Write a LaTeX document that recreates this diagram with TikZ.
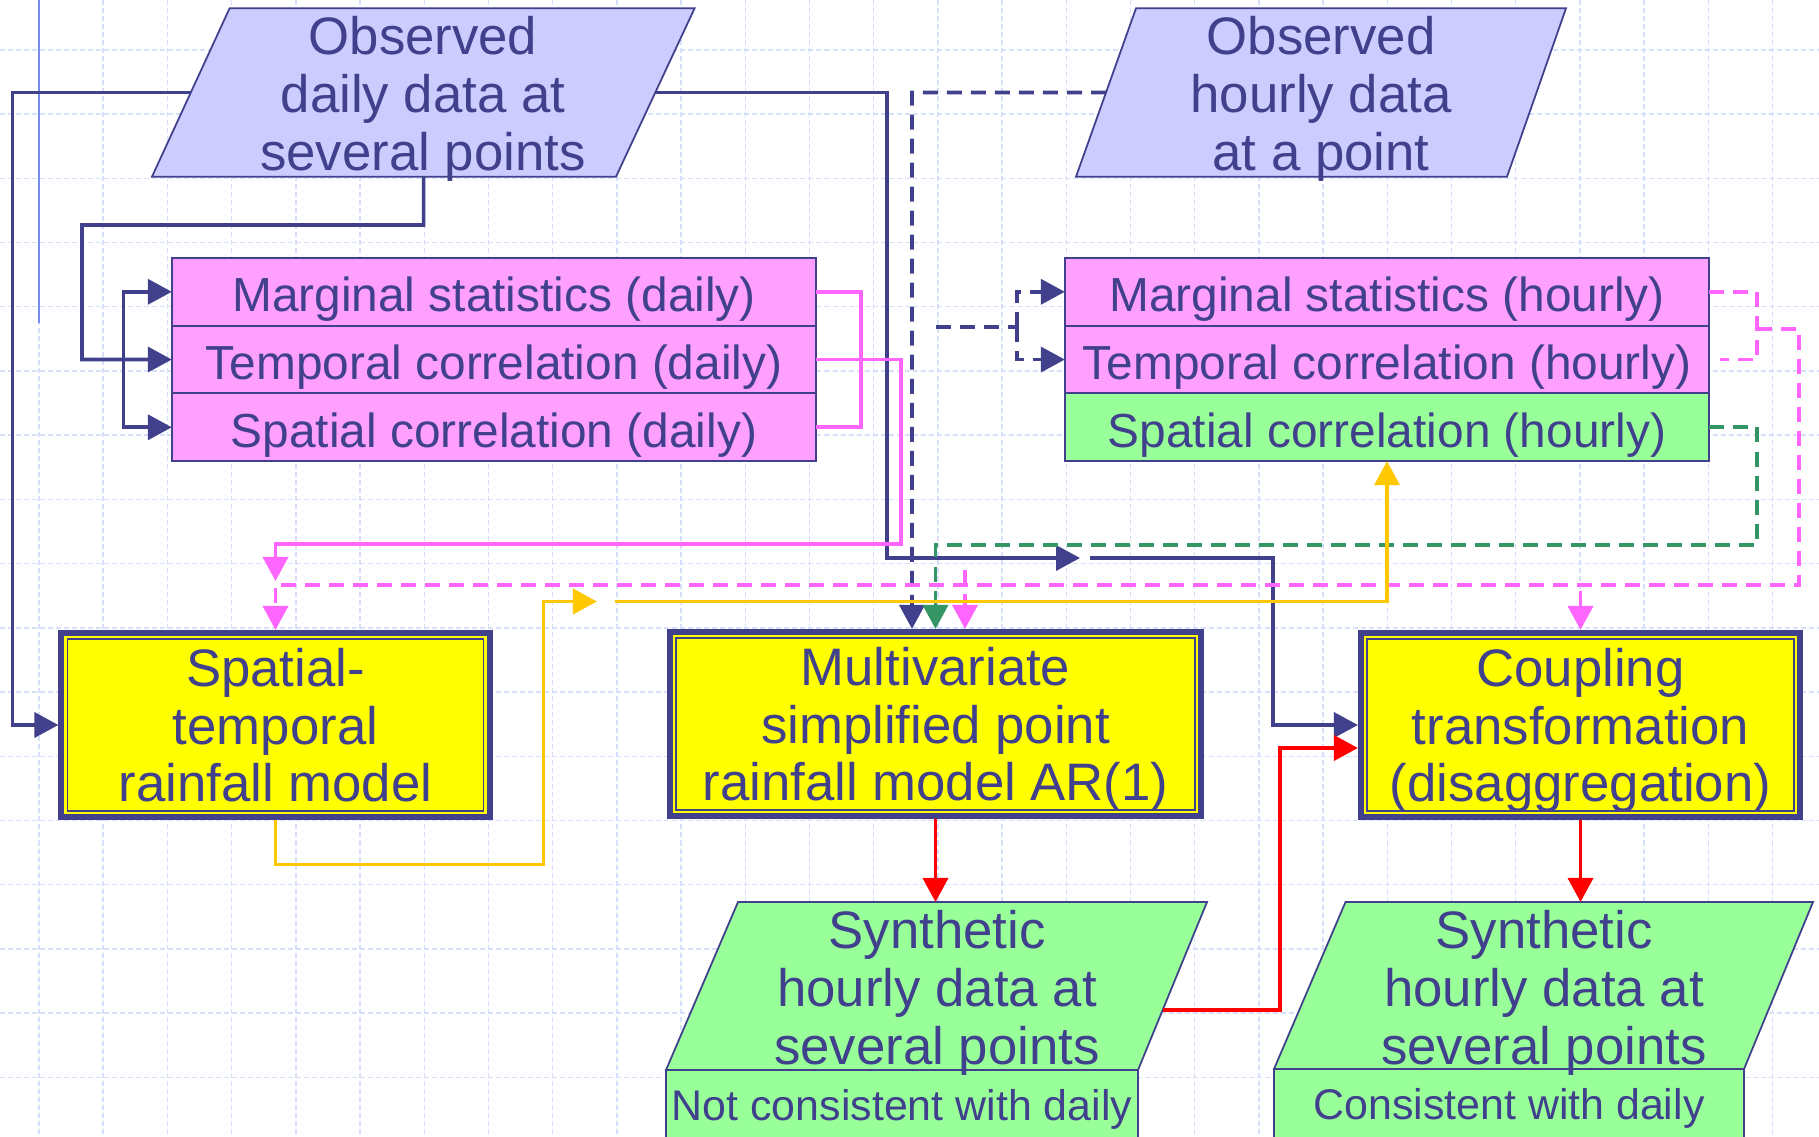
\documentclass[tikz,border=0pt]{standalone}
\usepackage{fontspec}
\setmainfont{Liberation Sans}
\usetikzlibrary{positioning,arrows.meta}

\definecolor{ink}{RGB}{64,64,140}
\definecolor{lavender}{RGB}{204,204,255}
\definecolor{pinkfill}{RGB}{255,160,255}
\definecolor{pinkline}{RGB}{255,102,255}
\definecolor{greenfill}{RGB}{153,255,153}
\definecolor{greenline}{RGB}{51,150,100}
\definecolor{goldline}{RGB}{255,200,0}
\definecolor{gridblue}{RGB}{214,224,250}
\definecolor{rulerblue}{RGB}{120,140,240}
\definecolor{modelyellow}{RGB}{255,255,0}

\newcommand{\bigtext}{\fontsize{15}{16.4}\selectfont}

\tikzset{
  con/.style={line width=1.05pt},
  dashcon/.style={con,dash pattern=on 0.15cm off 0.09cm},
  arrowed/.style={-{Triangle[length=0.24cm,width=0.25cm]}},
  datashape/.style={draw=ink,line width=0.5pt},
  datatext/.style={align=center,text=ink,font=\bigtext},
  rowbox/.style={draw=ink,line width=0.6pt,fill=pinkfill,minimum width=6.44cm,
    minimum height=0.677cm,inner sep=0pt,outer sep=0pt,text height=11.3pt,text depth=0pt,
    text=ink,font=\fontsize{13.6}{15}\selectfont},
  modelbox/.style={draw=ink,line width=0.06cm,fill=modelyellow,minimum height=1.84cm,
    inner sep=0pt,text depth=0pt,align=center,text=ink,font=\bigtext},
  gridline/.style={gridblue,line width=0.4pt,dash pattern=on 0.05cm off 0.03cm}
}

\begin{document}
\begin{tikzpicture}[x=0.01cm,y=-0.01cm]
 \useasboundingbox (0,0) rectangle (1819,1137);
 \clip (0,0) rectangle (1819,1137);
 \fill[white] (0,0) rectangle (1819,1137);

 %Grid
 \foreach \gx in {0,...,27}
   \draw[gridline] (39+64.2*\gx,0) -- (39+64.2*\gx,1137);
 \foreach \gy in {0,...,16}
   \draw[gridline] (0,50+64.2*\gy) -- (1819,50+64.2*\gy);
 \draw[rulerblue,line width=0.6pt] (39,0) -- (39,323);

 %Observed data
 \draw[datashape,fill=lavender] (229.6,8.3) -- (694.6,8.3) -- (616,176.7) -- (152,176.7) -- cycle;
 \node[datatext] (obsdaily) at (423,99) {Observed\\daily data at\\several points};
 \coordinate (obsdailyW) at (191,92.5);
 \coordinate (obsdailyE) at (655,92.5);
 \coordinate (obsdailyS) at (423.6,176.7);

 \draw[datashape,fill=lavender] (1136,8.3) -- (1566,8.3) -- (1507,176.7) -- (1076,176.7) -- cycle;
 \node[datatext] (obshourly) at (1321,99) {Observed\\hourly data\\at a point};
 \coordinate (obshourlyW) at (1106,92.5);

 %Statistics
 \node[rowbox] (margdaily) at (494,291.8) {Marginal statistics (daily)};
 \node[rowbox,below=0pt of margdaily] (tempdaily) {Temporal correlation (daily)};
 \node[rowbox,below=0pt of tempdaily] (spatdaily) {Spatial correlation (daily)};

 \node[rowbox] (marghourly) at (1387,291.8) {Marginal statistics (hourly)};
 \node[rowbox,below=0pt of marghourly] (temphourly) {Temporal correlation (hourly)};
 \node[rowbox,below=0pt of temphourly,fill=greenfill] (spathourly) {Spatial correlation (hourly)};

 %Models
 \node[modelbox,minimum width=4.28cm] (stmodel) at (275.5,725) {Spatial-\\temporal\\rainfall model};
 \node[modelbox,minimum width=5.31cm] (mvmodel) at (935.5,724) {Multivariate\\simplified point\\rainfall model AR(1)};
 \node[modelbox,minimum width=4.39cm] (cpmodel) at (1580.5,725) {Coupling\\transformation\\(disaggregation)};
 \foreach \m in {stmodel,mvmodel,cpmodel}
   \draw[ink,line width=0.45pt] ([xshift=0.09cm,yshift=0.09cm]\m.south west) rectangle ([xshift=-0.09cm,yshift=-0.09cm]\m.north east);

 %Synthetic data
 \draw[datashape,fill=greenfill] (666,1070) rectangle (1138,1160);
 \draw[datashape,fill=greenfill] (738,902) -- (1207,902) -- (1138,1070) -- (666,1070) -- cycle;
 \node[datatext] (synnot) at (937,993) {Synthetic\\hourly data at\\several points};
 \node[text=ink,anchor=base,font=\fontsize{12.2}{14}\selectfont] (notcons) at (902,1120) {Not consistent with daily};
 \coordinate (synnotN) at (935.5,902);
 \coordinate (synnotE) at (1163,1010);

 \draw[datashape,fill=greenfill] (1274,1069) rectangle (1744,1160);
 \draw[datashape,fill=greenfill] (1345.5,902) -- (1813,902) -- (1744,1069) -- (1274,1069) -- cycle;
 \node[datatext] (syncons) at (1544,993) {Synthetic\\hourly data at\\several points};
 \node[text=ink,anchor=base,font=\fontsize{12.2}{14}\selectfont] (cons) at (1509,1119) {Consistent with daily};
 \coordinate (synconsN) at (1580.5,902);

 %Daily data connectors
 \draw[con,ink,arrowed] (obsdailyW) -- (12.6,92.5) |- (stmodel.west);
 \draw[con,ink,arrowed] (obsdailyS) -- (423.6,225) -| (82,359.5) -- (tempdaily.west);
 \draw[con,ink,arrowed] (123.4,359.5) |- (margdaily.west);
 \draw[con,ink,arrowed] (123.4,359.5) |- (spatdaily.west);
 \draw[con,ink,arrowed] (obsdailyE) -- (887,92.5) |- (1080,558);
 \draw[con,ink,arrowed] (1090,558) -- (1273,558) |- (cpmodel.west);

 %Hourly data connectors
 \draw[dashcon,ink,arrowed] (obshourlyW) -- (912,92.5) -- ([xshift=-0.235cm]mvmodel.north);
 \draw[dashcon,ink] (936,327) -- (1017,327);
 \draw[dashcon,ink,arrowed] (1017,327) |- (marghourly.west);
 \draw[dashcon,ink,arrowed] (1017,327) |- (temphourly.west);

 %Pink connectors
 \draw[con,pinkline] (margdaily.east) -- ++(45,0) |- (spatdaily.east);
 \draw[con,pinkline,arrowed] (tempdaily.east) -| (901,544) -| (275.5,581);
 \draw[dashcon,pinkline] (marghourly.east) -- ++(48,0) |- ([xshift=0.11cm]temphourly.east);
 \draw[dashcon,pinkline,arrowed] (1757,329) -| (1799,584.7) -| (stmodel.north);
 \draw[dashcon,pinkline,arrowed] (965,570) -- ([xshift=0.295cm]mvmodel.north);
 \draw[dashcon,pinkline,arrowed] (1580.5,591) -- (cpmodel.north);

 %Green connector
 \draw[dashcon,greenline,arrowed] (spathourly.east) -| (1757,545) -| (mvmodel.north);

 %Gold connectors
 \draw[con,goldline,arrowed] (stmodel.south) -- (275.5,864.6) -| (543.6,601.5) -- (597,601.5);
 \draw[con,goldline,arrowed] (615,601.5) -| (spathourly.south);

 %Red connectors
 \draw[con,red,arrowed] (mvmodel.south) -- (synnotN);
 \draw[con,red,arrowed] (synnotE) -- (1280,1010) |- ([yshift=-0.23cm]cpmodel.west);
 \draw[con,red,arrowed] (cpmodel.south) -- (synconsN);

\end{tikzpicture}
\end{document}
